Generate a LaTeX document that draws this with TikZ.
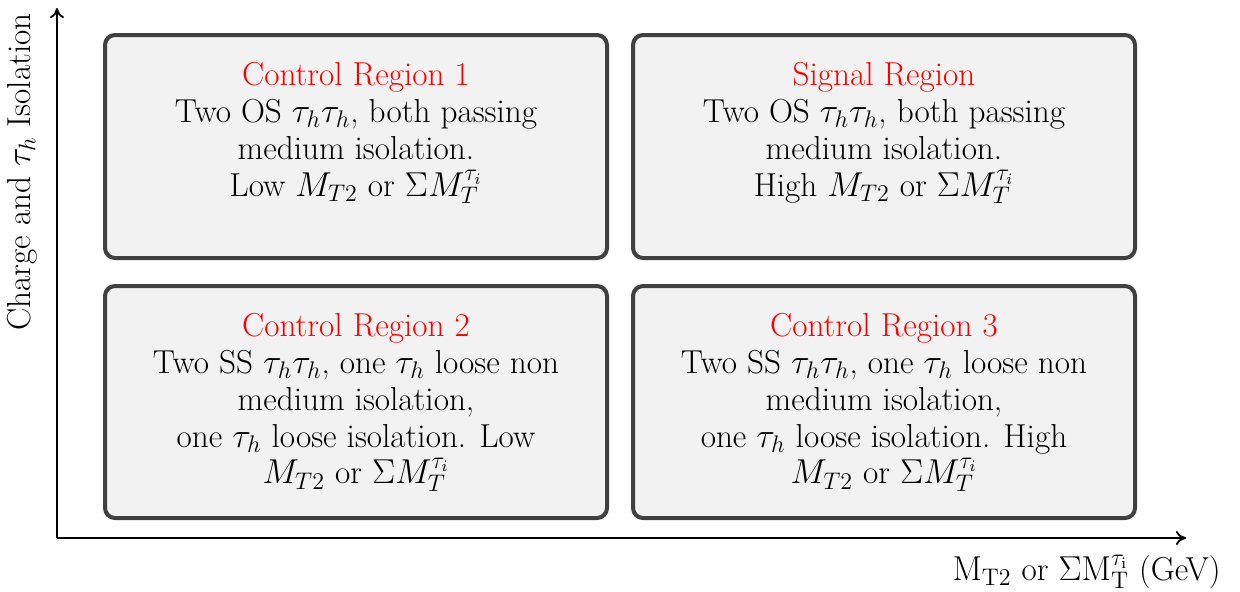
\documentclass[tikz,border=0pt]{standalone}
\usetikzlibrary{arrows.meta}
\begin{document}
\begin{tikzpicture}[x=0.5pt,y=-0.5pt,
  regionbox/.style={draw=black!75,line width=2pt,fill=black!5,rounded corners=5pt,minimum width=251pt,minimum height=#1,inner sep=0pt,anchor=north west},
  regiontext/.style={anchor=north,align=center,inner sep=0pt,font=\fontsize{16.6}{18.4}\selectfont},
  axisline/.style={line width=0.9pt,-{To[length=5pt,width=7pt]}},
  axislabel/.style={inner sep=0pt,font=\fontsize{16.6}{18}\selectfont}]
\useasboundingbox (0,0) rectangle (1240,591);
\coordinate (origin) at (57,538);
\coordinate (ytip) at (57,8);
\coordinate (xtip) at (1186,538);
\draw[axisline] (origin) -- (ytip);
\draw[axisline] (origin) -- (xtip);
\node[regionbox=111.5pt] (cr1) at (103,33) {};
\node[regionbox=111.5pt] (sr) at (631,33) {};
\node[regionbox=116pt] (cr2) at (103,284) {};
\node[regionbox=116pt] (cr3) at (631,284) {};
\node[regiontext] (cr1t) at (356,62) {\textcolor{red}{Control Region 1}\\Two OS $\tau_h\tau_h$, both passing\\medium isolation.\\Low $M_{T2}$ or $\Sigma M_T^{\tau_i}$};
\node[regiontext] (srt) at (884,62) {\textcolor{red}{Signal Region}\\Two OS $\tau_h\tau_h$, both passing\\medium isolation.\\High $M_{T2}$ or $\Sigma M_T^{\tau_i}$};
\node[regiontext] (cr2t) at (356,313) {\textcolor{red}{Control Region 2}\\Two SS $\tau_h\tau_h$, one $\tau_h$ loose non\\medium isolation,\\one $\tau_h$ loose isolation. Low\\$M_{T2}$ or $\Sigma M_T^{\tau_i}$};
\node[regiontext] (cr3t) at (884,313) {\textcolor{red}{Control Region 3}\\Two SS $\tau_h\tau_h$, one $\tau_h$ loose non\\medium isolation,\\one $\tau_h$ loose isolation. High\\$M_{T2}$ or $\Sigma M_T^{\tau_i}$};
\node[axislabel,anchor=east] (xlab) at (1221,572) {$\mathrm{M_{T2}}$ or $\Sigma\mathrm{M_T^{\tau_i}}$ (GeV)};
\node[axislabel,rotate=90] (ylab) at (22,172) {Charge and $\tau_h$ Isolation};
\end{tikzpicture}
\end{document}
